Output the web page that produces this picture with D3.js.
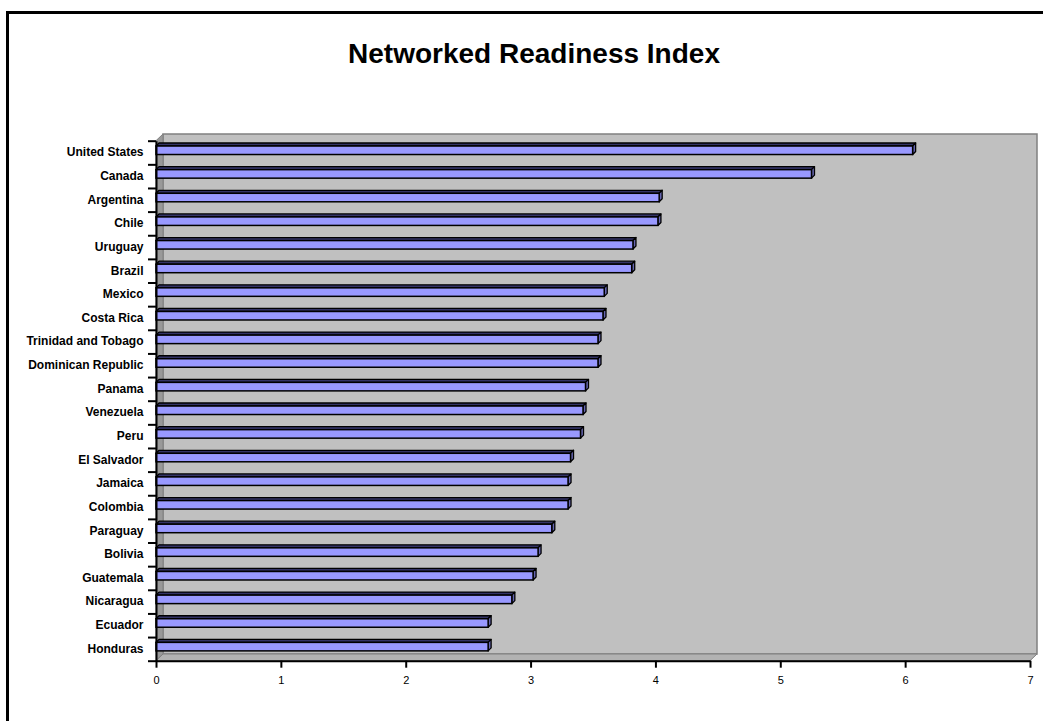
<!DOCTYPE html>
<html>
<head>
<meta charset="utf-8">
<script src="https://cdn.jsdelivr.net/npm/d3@7"></script>
<style>
  html, body { margin: 0; padding: 0; background: #fff; }
  svg { display: block; font-family: "Liberation Sans", Arial, sans-serif; }
</style>
</head>
<body>
<script>
const categories = ["United States","Canada","Argentina","Chile","Uruguay","Brazil","Mexico","Costa Rica","Trinidad and Tobago","Dominican Republic","Panama","Venezuela","Peru","El Salvador","Jamaica","Colombia","Paraguay","Bolivia","Guatemala","Nicaragua","Ecuador","Honduras"];
const values = [6.06,5.25,4.03,4.02,3.82,3.81,3.59,3.58,3.54,3.54,3.44,3.42,3.40,3.32,3.30,3.30,3.17,3.06,3.02,2.85,2.66,2.66];
const xTicks = [0,1,2,3,4,5,6,7];
const title = "Networked Readiness Index";

const W = 1043, H = 721;
const svg = d3.select("body").append("svg").attr("width", W).attr("height", H);

// outer frame
svg.append("rect").attr("x", 7.5).attr("y", 12.5).attr("width", 1200).attr("height", 900)
  .attr("fill", "#fff").attr("stroke", "#000").attr("stroke-width", 3);

svg.append("text").attr("x", 534).attr("y", 63).attr("text-anchor", "middle")
  .attr("font-size", 28).attr("font-weight", "bold").text(title);

const x = d3.scaleLinear().domain([0, 7]).range([156, 1030]);
const y = d3.scaleBand().domain(categories).range([140.7, 660.7]).padding(0);
const yb = d3.scaleLinear().domain([0, categories.length]).range([140.7, 660.7]);
const DX = 7, DY = -6.7;

const x0 = x(0), x1 = x(7), yTop = y.range()[0], yBot = y.range()[1];

// back wall
svg.append("rect").attr("x", x0 + DX).attr("y", yTop + DY).attr("width", x1 - x0).attr("height", yBot - yTop)
  .attr("fill", "#c0c0c0").attr("stroke", "#808080").attr("stroke-width", 1.5);
// left side wall
svg.append("polygon")
  .attr("points", [[x0, yTop], [x0 + DX, yTop + DY], [x0 + DX, yBot + DY], [x0, yBot]].join(" "))
  .attr("fill", "#999999").attr("stroke", "#808080").attr("stroke-width", 1);
// floor
svg.append("polygon")
  .attr("points", [[x0, yBot], [x0 + DX, yBot + DY], [x1 + DX, yBot + DY], [x1, yBot]].join(" "))
  .attr("fill", "#b2b2b2").attr("stroke", "#808080").attr("stroke-width", 1);

// bars
const bd = 3;
const bars = svg.append("g").selectAll("g").data(categories).join("g");
bars.each(function (c, i) {
  const g = d3.select(this);
  const cy = y(c) + y.bandwidth() / 2;
  const t = cy - 6.5, b = cy + 2;
  const xs = x(0), xe = x(values[i]);
  g.append("polygon").attr("points", [[xs, t], [xs + bd, t - bd], [xe + bd, t - bd], [xe, t]].join(" "))
    .attr("fill", "#333366").attr("stroke", "#000").attr("stroke-width", 1.3).attr("stroke-linejoin", "round");
  g.append("polygon").attr("points", [[xe, t], [xe + bd, t - bd], [xe + bd, b - bd], [xe, b]].join(" "))
    .attr("fill", "#6666b0").attr("stroke", "#000").attr("stroke-width", 1.3).attr("stroke-linejoin", "round");
  g.append("rect").attr("x", xs).attr("y", t).attr("width", xe - xs).attr("height", b - t)
    .attr("fill", "#9999ff").attr("stroke", "#000").attr("stroke-width", 1.5);
});

// x axis
const gx = svg.append("g").attr("transform", `translate(0,${yBot})`)
  .call(d3.axisBottom(x).tickValues(xTicks).tickFormat(d3.format("d")).tickSize(7).tickPadding(8.5).tickSizeOuter(0));
gx.select(".domain").attr("stroke", "#000").attr("stroke-width", 2);
gx.selectAll(".tick line").attr("stroke", "#000").attr("stroke-width", 2);
gx.selectAll(".tick text").attr("font-size", 11).attr("font-family", "Liberation Sans, Arial, sans-serif").attr("fill", "#000");

// y axis boundary ticks
const gyb = svg.append("g").attr("transform", `translate(${x0},0)`)
  .call(d3.axisLeft(yb).tickValues(d3.range(categories.length + 1)).tickFormat("").tickSize(8).tickSizeOuter(0));
gyb.select(".domain").attr("stroke", "#000").attr("stroke-width", 2);
gyb.selectAll(".tick line").attr("stroke", "#000").attr("stroke-width", 2);

// y labels
const gy = svg.append("g").attr("transform", `translate(${x0},0)`)
  .call(d3.axisLeft(y).tickSize(0).tickPadding(12.5));
gy.select(".domain").remove();
gy.selectAll(".tick text").attr("font-size", 12).attr("font-weight", "bold")
  .attr("font-family", "Liberation Sans, Arial, sans-serif").attr("fill", "#000");
</script>
</body>
</html>
